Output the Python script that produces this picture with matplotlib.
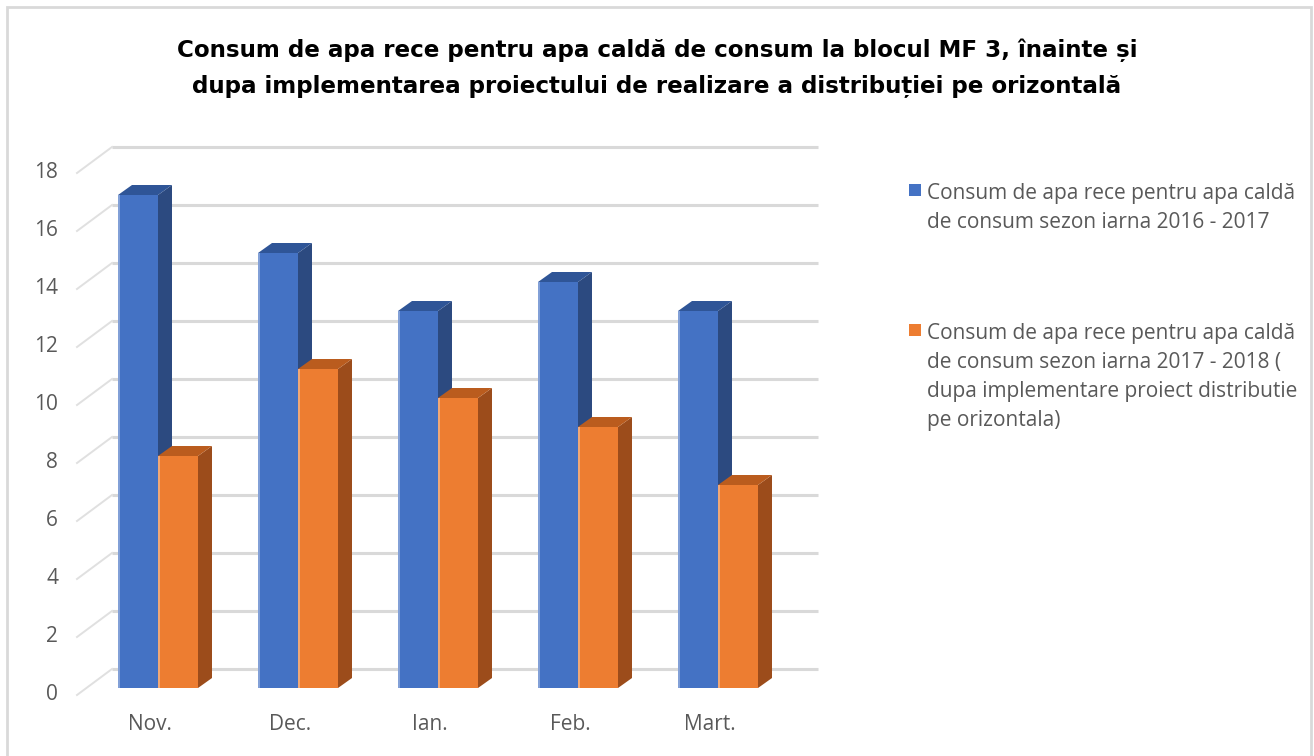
import matplotlib
matplotlib.use("Agg")
import matplotlib.pyplot as plt
from matplotlib.patches import Polygon, Rectangle

# ---------------- data ----------------
categories = ["Nov.", "Dec.", "Ian.", "Feb.", "Mart."]
series_2016_2017 = [17, 15, 13, 14, 13]
series_2017_2018 = [8, 11, 10, 9, 7]
y_ticks = [0, 2, 4, 6, 8, 10, 12, 14, 16, 18]
title_text = ("Consum de apa rece pentru apa caldă de consum la blocul MF 3, înainte și\n"
              "dupa implementarea proiectului de realizare a distribuției pe orizontală")
legend_labels = [
    "Consum de apa rece pentru apa caldă\nde consum sezon iarna 2016 - 2017",
    "Consum de apa rece pentru apa caldă\nde consum sezon iarna 2017 - 2018 (\n"
    "dupa implementare proiect distributie\npe orizontala)",
]

# ---------------- styles ----------------
W, H = 1314, 756
BLUE = dict(front="#4472C4", top="#2F5597", side="#2C4A80", edge="#8FAADC")
ORANGE = dict(front="#ED7D31", top="#BA5C1E", side="#9C4C1B", edge="#F4B183")
GRID = "#D9D9D9"
TXT = "#595959"
FONT = "Open Sans"
FS = 15

fig = plt.figure(figsize=(W / 100, H / 100), dpi=100)
ax = fig.add_axes([0, 0, 1, 1])
PX_CAT, X0 = 140.0, 158.0      # pixels per category, pixel x of first category centre
PX_VAL, Y0 = 29.0, 688.0       # pixels per unit, pixel y of value 0 (front plane)
ax.set_xlim((0 - X0) / PX_CAT, (W - X0) / PX_CAT)
ax.set_ylim((Y0 - H) / PX_VAL, Y0 / PX_VAL)
ax.axis("off")

# 3D depth offsets (data units)
bar_w = 40 / PX_CAT
bar_dx, bar_dy = 14 / PX_CAT, 10 / PX_VAL
wall_dx, wall_dy = 35 / PX_CAT, 19 / PX_VAL
wall_left = (112 - X0) / PX_CAT
wall_right = (818 - X0) / PX_CAT
diag_left = wall_left - wall_dx
label_off = -7 / PX_VAL

# back wall gridlines + diagonal side lines
for v in y_ticks:
    ax.plot([wall_left, wall_right], [v + wall_dy, v + wall_dy], color=GRID, lw=2.2,
            solid_capstyle="butt", zorder=1)
    ax.plot([diag_left, wall_left], [v + label_off, v + wall_dy], color="#E0E0E0", lw=1.4,
            zorder=1)
    ax.text(diag_left - 19 / PX_CAT, v + label_off, str(v), ha="right", va="center",
            fontsize=FS, color=TXT, family=FONT)


def bar3d(xl, h, c, z):
    xr = xl + bar_w
    ax.add_patch(Polygon([(xr, 0), (xr + bar_dx, bar_dy), (xr + bar_dx, h + bar_dy), (xr, h)],
                         closed=True, facecolor=c["side"], edgecolor="none", zorder=z))
    ax.add_patch(Polygon([(xl, h), (xr, h), (xr + bar_dx, h + bar_dy), (xl + bar_dx, h + bar_dy)],
                         closed=True, facecolor=c["top"], edgecolor="none", zorder=z))
    ax.add_patch(Rectangle((xl, 0), bar_w, h, facecolor=c["front"], edgecolor="none", zorder=z + 0.1))
    ax.plot([xl + 1 / PX_CAT, xl + 1 / PX_CAT], [0, h], color=c["edge"], lw=1.2, zorder=z + 0.2,
            solid_capstyle="butt")


for i, (a, b) in enumerate(zip(series_2016_2017, series_2017_2018)):
    bar3d(i - bar_w, a, BLUE, 2 + i)
    bar3d(i, b, ORANGE, 2.5 + i)
    ax.text(i - 8 / PX_CAT, -37 / PX_VAL, categories[i], ha="center", va="center",
            fontsize=FS, color=TXT, family=FONT)

# title
for k, line in enumerate(title_text.split("\n")):
    fig.text(657 / W, 1 - (50 + 36 * k) / H, line, ha="center", va="center",
             fontsize=16.6, fontweight="bold", color="#000000", family="DejaVu Sans")

# legend
leg_items = [(190, legend_labels[0], BLUE["front"]), (330, legend_labels[1], ORANGE["front"])]
for yc, lab, col in leg_items:
    fig.patches.append(Rectangle((909 / W, 1 - (yc + 6) / H), 12 / W, 12 / H,
                                 facecolor=col, edgecolor="none", transform=fig.transFigure))
    for k, line in enumerate(lab.split("\n")):
        fig.text(927 / W, 1 - (yc + 3 + 29.3 * k) / H, line, ha="left", va="center",
                 fontsize=FS, color=TXT, family=FONT)

# chart border
fig.patches.append(Rectangle((7 / W, -0.05), (1311 - 7) / W, (H - 7) / H + 0.05, fill=False,
                             edgecolor=GRID, lw=2, transform=fig.transFigure))

fig.savefig("out.png", dpi=100)
